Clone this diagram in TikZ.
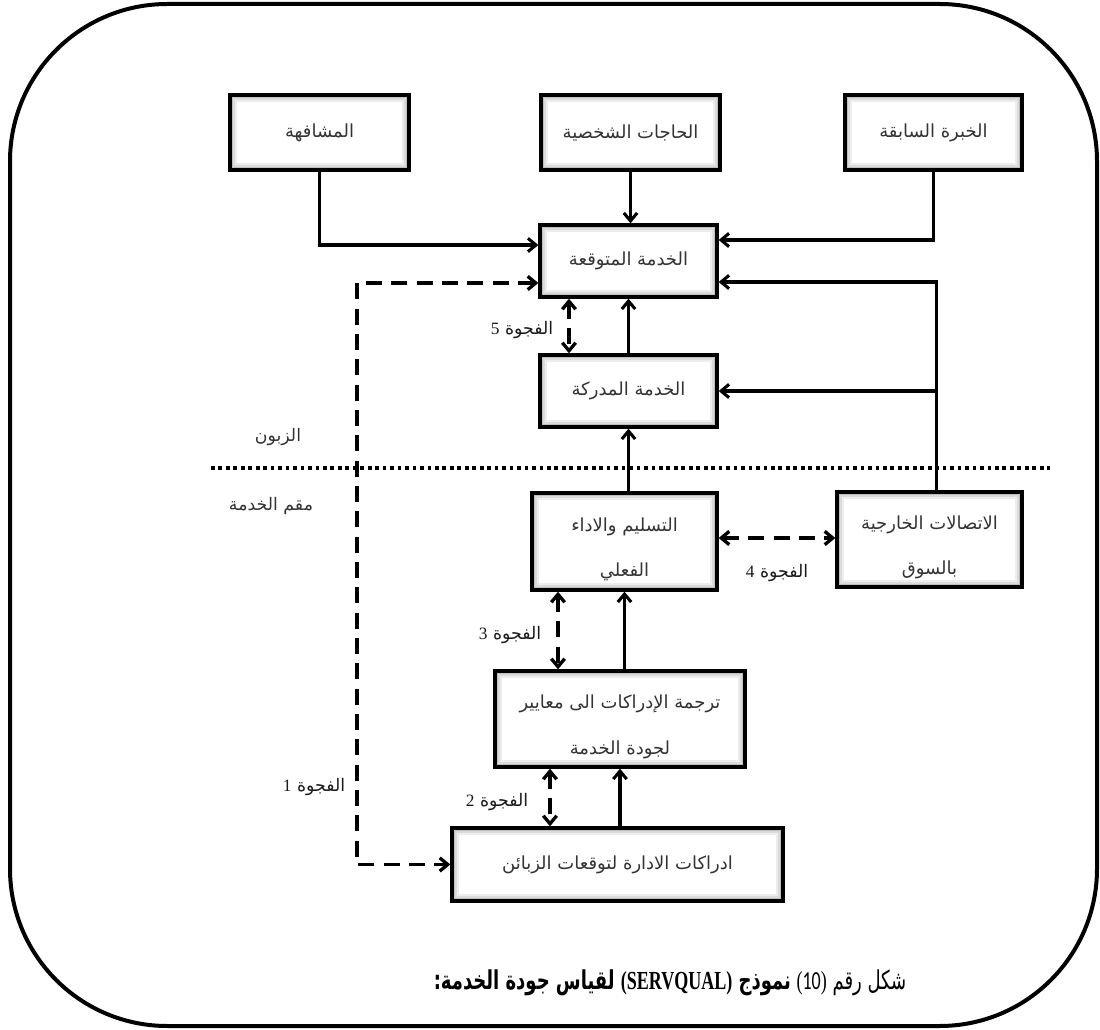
\documentclass[tikz,border=0pt]{standalone}
\usepackage{graphicx}
\usepackage{fontspec}
\TeXXeTstate=1
\newfontfamily\arabicfont[Script=Arabic]{DejaVu Sans}
\newfontfamily\latinserif{Liberation Serif}
\newfontfamily\latinsans{Carlito}
\usetikzlibrary{arrows.meta,calc}

\tikzset{
  frame/.style={line width=3pt, rounded corners=118pt},
  boxtext/.style={font=\arabicfont\fontsize{13.5}{34}\selectfont, text=black!80, align=center, inner sep=0pt},
  box/.style 2 args={draw=black, line width=2.5pt, fill=white, inner sep=0pt,
    minimum width=#1*0.75pt, minimum height=#2*0.75pt, boxtext,
    path picture={
      \foreach \w/\c in {11pt/7,8pt/14,5pt/25,2.8pt/40}{
        \draw[line width=\w, black!\c] (path picture bounding box.south west)
          rectangle (path picture bounding box.north east);
      }}},
  twoline/.style={label={[boxtext, yshift=-6pt]center:{#1}}},
  tipshape/.tip={Straight Barb[length=6pt,width=10pt]},
  conn/.style={line width=2.3pt, -tipshape},
  gapline/.style={line width=2.5pt, dash pattern=on 12pt off 7pt, tipshape-tipshape},
  gaplabel/.style={font=\arabicfont\fontsize{13}{15}\selectfont, text=black!90, inner sep=1pt},
  sidelabel/.style={font=\arabicfont\fontsize{13}{15}\selectfont, text=black!80, inner sep=1pt},
  divider/.style={line width=3pt, dash pattern=on 2.8pt off 2.8pt}
}

\begin{document}
\begin{tikzpicture}[x=0.75pt,y=-0.75pt]
\useasboundingbox (0,0) rectangle (1100,1030);

% outer rounded frame
\draw[frame] (10,4) rectangle (1097,1026);

% customer side
\node[box={179}{75}] (wom)  at (319.5,132.5) {\beginR المشافهة\endR};
\node[box={179}{75}] (need) at (630.5,132.5) {\beginR الحاجات الشخصية\endR};
\node[box={177}{75}] (past) at (933.5,132.5) {\beginR الخبرة السابقة\endR};
\node[box={177}{72}] (exp)  at (628.5,261)   {\beginR الخدمة المتوقعة\endR};
\node[box={177}{72}] (perc) at (628.5,391)   {\beginR الخدمة المدركة\endR};

% provider side
\node[box={185}{97}, twoline={\beginR التسليم والاداء\endR\\\beginR الفعلي\endR}] (deliv) at (624.5,541.5) {};
\node[box={185}{95}, twoline={\beginR الاتصالات الخارجية\endR\\\beginR بالسوق\endR}] (ext) at (929.5,539.5) {};
\node[box={250}{96}, twoline={\beginR ترجمة الإدراكات الى معايير\endR\\\beginR لجودة الخدمة\endR}] (trans) at (620,719) {};
\node[box={331}{73}] (mgmt)  at (617.5,864.5) {\beginR ادراكات الادارة لتوقعات الزبائن\endR};

% customer / provider divider
\coordinate (divL) at (211,468);
\coordinate (divR) at (1050,468);
\draw[divider] (divL) -- (divR);
\node[sidelabel] (lcust) at (278,437) {\beginR الزبون\endR};
\node[sidelabel] (lprov) at (271,506) {\beginR مقم الخدمة\endR};

% inputs to the expected service
\draw[conn] (wom.south) |- ($(exp.west)+(0,-16)$);
\draw[conn] (need.south) -- (need.south |- exp.north);
\draw[conn] (past.south) |- ($(exp.east)+(0,-21)$);
\draw[conn] (perc.north) -- (exp.south);

% external communications feed both customer boxes
\coordinate (extTop) at ($(ext.north)+(7,0)$);
\draw[conn] (extTop) |- ($(exp.east)+(0,21)$);
\draw[conn] (extTop |- perc.east) -- (perc.east);

% provider chain
\draw[conn] (deliv.north -| perc.south) -- (perc.south);
\draw[conn] (trans.north -| deliv.south) -- (deliv.south);
\draw[conn] (mgmt.north -| trans.south) -- (trans.south);

% gap 5
\coordinate (g5) at ($(exp.south)+(-59.5,0)$);
\draw[gapline] (g5) -- (g5 |- perc.north);
\node[gaplabel] (l5) at (522,330) {\beginR الفجوة \latinserif 5\endR};

% gap 4
\draw[gapline] (deliv.east |- 0,538) -- (ext.west |- 0,538);
\node[gaplabel] (l4) at (777,573) {\beginR الفجوة \latinserif 4\endR};

% gap 3
\coordinate (g3) at ($(deliv.south)+(-66.5,0)$);
\draw[gapline] (g3) -- (g3 |- trans.north);
\node[gaplabel] (l3) at (510,635) {\beginR الفجوة \latinserif 3\endR};

% gap 2
\coordinate (g2) at ($(trans.south)+(-70,0)$);
\draw[gapline] (g2) -- (g2 |- mgmt.north);
\node[gaplabel] (l2) at (497,802) {\beginR الفجوة \latinserif 2\endR};

% gap 1
\coordinate (g1) at (357,283);
\draw[gapline] ($(exp.west)+(0,22)$) -- (g1) -- (g1 |- mgmt.west) -- (mgmt.west);
\node[gaplabel] (l1) at (314,787) {\beginR الفجوة \latinserif 1\endR};

% caption
\node[font=\arabicfont\fontsize{15}{18}\selectfont] (cap) at (670,983)
  {\scalebox{0.9}[1.3]{\beginR شكل رقم \beginL{\latinserif(}{\latinsans 10}{\latinserif)}\endL{} {\bfseries نموذج \beginL{\latinserif\bfseries (SERVQUAL)}\endL{} لقياس جودة الخدمة:}\endR}};

\end{tikzpicture}
\end{document}
